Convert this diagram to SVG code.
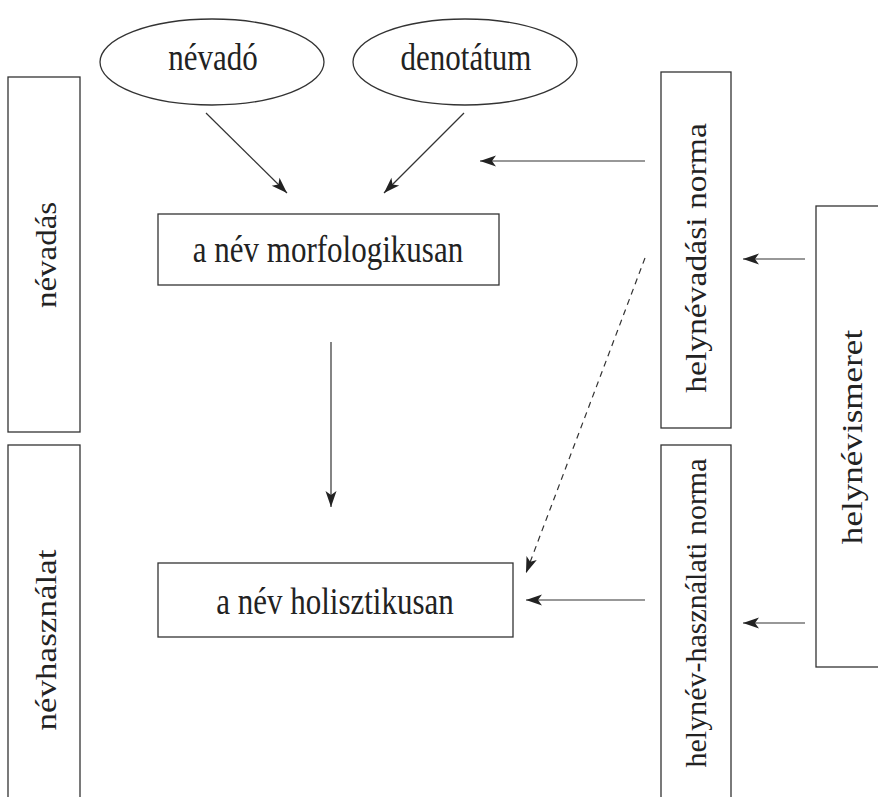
<svg xmlns="http://www.w3.org/2000/svg" width="878" height="797" viewBox="0 0 878 797">
<style>
.box{fill:none;stroke:#333;stroke-width:1.3}
.t{font-family:"Liberation Serif","Times New Roman",serif;font-size:31px;fill:#222;text-anchor:middle}
.v{font-family:"Liberation Serif","Times New Roman",serif;font-size:30px;fill:#222;text-anchor:middle}
.c{fill:none;stroke:#333;stroke-width:1.2}
.d{stroke-dasharray:6,5}
</style>
<defs>
<marker id="ah" viewBox="-17 -7 18 14" markerWidth="18" markerHeight="14" refX="0" refY="0" orient="auto" markerUnits="userSpaceOnUse">
<path d="M0,0 L-16,-5.5 L-12,0 L-16,5.5 Z" fill="#222"/>
</marker>
</defs>
<rect width="878" height="797" fill="#fff"/>
<g id="nevado"><ellipse class="box" cx="212" cy="62" rx="112" ry="43"/><text class="t" transform="translate(213,70) scale(1,1.2)">névadó</text></g>
<g id="denotatum"><ellipse class="box" cx="465" cy="62" rx="112" ry="43"/><text class="t" transform="translate(466,70) scale(1,1.2)">denotátum</text></g>
<g id="nevadas"><rect class="box" x="8" y="77" width="72" height="355"/><text class="v" transform="translate(56,255) scale(1,1.1) rotate(-90)">névadás</text></g>
<g id="nevhasznalat"><rect class="box" x="8" y="445" width="72" height="400"/><text class="v" transform="translate(56,640) scale(1,1.17) rotate(-90)">névhasználat</text></g>
<g id="morf"><rect class="box" x="158" y="214" width="341" height="71"/><text class="t" transform="translate(328,262) scale(1,1.2)">a név morfologikusan</text></g>
<g id="holi"><rect class="box" x="158" y="563" width="355" height="74"/><text class="t" transform="translate(335,614) scale(1,1.2)">a név holisztikusan</text></g>
<g id="helynevadasi"><rect class="box" x="661" y="72" width="70" height="356"/><text class="v" transform="translate(706,258) scale(1,1.12) rotate(-90)">helynévadási norma</text></g>
<g id="helynevhasznalati"><rect class="box" x="661" y="445" width="70" height="400"/><text class="v" transform="translate(706,613) scale(1,1.0) rotate(-90)">helynév-használati norma</text></g>
<g id="helynevismeret"><rect class="box" x="816" y="206" width="100" height="461"/><text class="v" transform="translate(862,437) scale(1,1.17) rotate(-90)">helynévismeret</text></g>
<g id="connectors">
<line class="c" x1="206" y1="113" x2="287" y2="193" marker-end="url(#ah)"/>
<line class="c" x1="464" y1="113" x2="384" y2="193" marker-end="url(#ah)"/>
<line class="c" x1="645" y1="161" x2="480" y2="161" marker-end="url(#ah)"/>
<line class="c" x1="331" y1="342" x2="331" y2="507" marker-end="url(#ah)"/>
<line class="c d" x1="645" y1="258" x2="526" y2="573" marker-end="url(#ah)"/>
<line class="c" x1="645" y1="600" x2="526" y2="600" marker-end="url(#ah)"/>
<line class="c" x1="805" y1="259" x2="743" y2="259" marker-end="url(#ah)"/>
<line class="c" x1="805" y1="623" x2="743" y2="623" marker-end="url(#ah)"/>
</g>
</svg>
